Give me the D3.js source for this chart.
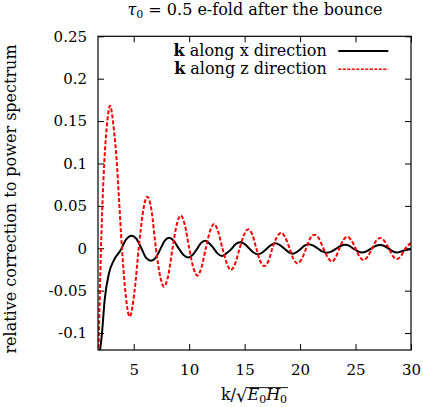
<!DOCTYPE html>
<html>
<head>
	<meta charset="utf-8">
	<title>relative correction to power spectrum</title>
	<script type="text/javascript" src="https://cdn.jsdelivr.net/npm/d3@7/dist/d3.min.js"></script>
	<style>
		body { margin: 0; background: #fff; }
		text { font-family: "DejaVu Serif", serif; fill: #000; }
	</style>
</head>
<body>
	<svg id="chart" width="423" height="407"></svg>
	<script type="text/javascript">
		// k along x direction (black, solid)
		var kX = [1.92, 2.14, 2.38, 2.77, 3.22, 3.83, 4.28, 4.82, 5.25, 5.69, 6.1, 6.56, 7.0, 7.4, 7.8, 8.19, 8.6, 9.05, 9.5, 9.93, 10.3, 10.7, 11.05, 11.45,
			11.8, 12.2, 12.55, 12.94, 13.35, 13.8, 14.2, 14.6, 15.0, 15.4, 15.8, 16.19, 16.6, 17.0, 17.4, 17.75, 18.15, 18.55, 18.95, 19.35, 19.7, 20.05,
			20.4, 20.76, 21.2, 21.6, 22.0, 22.42, 22.85, 23.25, 23.65, 24.07, 24.45, 24.8, 25.2, 25.58, 26.0, 26.4, 26.8, 27.23, 27.6, 28.0, 28.35, 28.74,
			29.1, 29.45, 30.0];
		var valX = [-0.125, -0.1, -0.061, -0.0295, -0.0138, -0.002, 0.0098, 0.0149, 0.011, 0.0, -0.011, -0.0146, -0.011, -0.001, 0.009, 0.0125, 0.009, 0.0, -0.008, -0.011, -0.008, -0.001, 0.006, 0.0088,
			0.006, 0.0, -0.006, -0.0091, -0.006, -0.001, 0.005, 0.0071, 0.005, 0.0, -0.005, -0.0071, -0.005, -0.0005, 0.004, 0.0059, 0.004, 0.0, -0.0045, -0.0064, -0.0045, -0.0008,
			0.003, 0.0047, 0.003, -0.0003, -0.0037, -0.0053, -0.0037, -0.0005, 0.0027, 0.004, 0.0027, -0.0005, -0.0035, -0.005, -0.0035, -0.0005, 0.0027, 0.0039, 0.0027, -0.0005, -0.0035, -0.005,
			-0.0038, -0.0025, -0.001];

		// k along z direction (red, dashed)
		var kZ = [1.82, 2.05, 2.35, 2.56, 2.86, 3.2, 3.47, 3.65, 3.94, 4.2, 4.64, 5.08, 5.45, 5.9, 6.23, 6.6, 7.0, 7.4, 7.73, 8.1, 8.5, 8.9, 9.24, 9.6,
			10.0, 10.4, 10.74, 11.1, 11.5, 11.9, 12.25, 12.6, 13.0, 13.4, 13.75, 14.15, 14.55, 14.95, 15.34, 15.7, 16.05, 16.4, 16.76, 17.15, 17.5,
			17.9, 18.29, 18.65, 19.05, 19.4, 19.77, 20.15, 20.55, 20.9, 21.3, 21.7, 22.1, 22.5, 22.87, 23.2, 23.55, 23.9, 24.25, 24.6, 25.0, 25.35,
			25.72, 26.1, 26.5, 26.85, 27.23, 27.6, 28.0, 28.35, 28.74, 29.1, 29.5, 30.0];
		var valZ = [-0.125, 0.0, 0.102, 0.1415, 0.168, 0.1415, 0.102, 0.063, 0.0, -0.045, -0.0807, -0.05, 0.0, 0.048, 0.0609, 0.045, 0.0, -0.034, -0.0453, -0.033, 0.0, 0.029, 0.0385, 0.028,
			0.0, -0.024, -0.0323, -0.023, 0.0, 0.021, 0.0287, 0.02, 0.0, -0.018, -0.0256, -0.018, 0.0, 0.016, 0.0224, 0.016, 0.0, -0.015, -0.0209, -0.015, 0.0,
			0.013, 0.0184, 0.013, 0.0, -0.0125, -0.0177, -0.0125, 0.0, 0.0115, 0.016, 0.0115, 0.0, -0.011, -0.0157, -0.011, 0.0, 0.0097, 0.0137, 0.0097, 0.0, -0.0097,
			-0.0138, -0.0097, 0.0, 0.0086, 0.0121, 0.0086, 0.0, -0.009, -0.0126, -0.009, 0.0, 0.006];

		var xTicks = [5, 10, 15, 20, 25, 30];
		var xTickLabels = ["5", "10", "15", "20", "25", "30"];
		var yTicks = [0.25, 0.2, 0.15, 0.1, 0.05, 0, -0.05, -0.1];
		var yTickLabels = ["0.25", "0.2", "0.15", "0.1", "0.05", "0", "-0.05", "-0.1"];

		var pLeft = 98, pRight = 411, pTop = 36.3, pBottom = 350;
		var svg = d3.select("#chart");

		var x = d3.scaleLinear().domain([1.78, 30]).range([pLeft, pRight]);
		var y = d3.scaleLinear().domain([-0.12, 0.25]).range([pBottom, pTop]);

		svg.append("clipPath").attr("id", "plotclip")
			.append("rect")
			.attr("x", pLeft).attr("y", pTop)
			.attr("width", pRight - pLeft).attr("height", pBottom - pTop);

		function tickLabel(ticks, labels) {
			return function(d) { return labels[ticks.indexOf(d)]; };
		}

		// axes, ticks pointing inwards on all four sides
		svg.append("g").attr("transform", "translate(0," + pBottom + ")")
			.call(d3.axisBottom(x).tickValues(xTicks).tickFormat(tickLabel(xTicks, xTickLabels)).tickSize(-6).tickPadding(14));
		svg.append("g").attr("transform", "translate(0," + pTop + ")")
			.call(d3.axisTop(x).tickValues(xTicks).tickFormat("").tickSize(-6));
		svg.append("g").attr("transform", "translate(" + pLeft + ",0)")
			.call(d3.axisLeft(y).tickValues(yTicks).tickFormat(tickLabel(yTicks, yTickLabels)).tickSize(-6).tickPadding(11));
		svg.append("g").attr("transform", "translate(" + pRight + ",0)")
			.call(d3.axisRight(y).tickValues(yTicks).tickFormat("").tickSize(-6));

		svg.selectAll(".domain").remove();
		svg.selectAll(".tick line").attr("stroke", "#000").attr("stroke-width", 1);
		svg.selectAll(".tick text").attr("font-family", "DejaVu Serif").attr("font-size", 15).attr("fill", "#000");

		// curves
		var lineX = d3.line()
			.x(function(d, i) { return x(kX[i]); })
			.y(function(d) { return y(d); })
			.curve(d3.curveMonotoneX);
		var lineZ = d3.line()
			.x(function(d, i) { return x(kZ[i]); })
			.y(function(d) { return y(d); })
			.curve(d3.curveMonotoneX);

		var plot = svg.append("g").attr("clip-path", "url(#plotclip)");
		plot.append("path").datum(valX)
			.attr("d", lineX)
			.attr("fill", "none").attr("stroke", "#000").attr("stroke-width", 2);
		plot.append("path").datum(valZ)
			.attr("d", lineZ)
			.attr("fill", "none").attr("stroke", "#ff0000").attr("stroke-width", 2)
			.attr("stroke-dasharray", "4,2");

		// frame
		svg.append("rect")
			.attr("x", pLeft).attr("y", pTop)
			.attr("width", pRight - pLeft).attr("height", pBottom - pTop)
			.attr("fill", "none").attr("stroke", "#000").attr("stroke-width", 1.2);

		// legend
		var legend = [
			{ dir: "x", color: "#000", dash: null, y: 51 },
			{ dir: "z", color: "#ff0000", dash: "3,1.5", y: 69.3 }
		];
		legend.forEach(function(l) {
			var t = svg.append("text")
				.attr("x", 326.7).attr("y", l.y + 4.8)
				.attr("text-anchor", "end").attr("font-size", 16);
			t.append("tspan").attr("font-weight", "bold").text("k");
			t.append("tspan").text(" along " + l.dir + " direction");
			svg.append("line")
				.attr("x1", 338.3).attr("x2", 388.3)
				.attr("y1", l.y).attr("y2", l.y)
				.attr("stroke", l.color).attr("stroke-width", l.dash ? 1.5 : 2)
				.attr("stroke-dasharray", l.dash);
		});

		// title
		var title = svg.append("text")
			.attr("x", 255).attr("y", 15)
			.attr("text-anchor", "middle").attr("font-size", 16);
		title.append("tspan").attr("font-style", "italic").text("τ");
		title.append("tspan").attr("font-size", 11).attr("dy", 3).text("0");
		title.append("tspan").attr("dy", -3).text(" = 0.5 e-fold after the bounce");

		// y label
		svg.append("text")
			.attr("transform", "translate(16,199) rotate(-90)")
			.attr("text-anchor", "middle").attr("font-size", 16)
			.text("relative correction to power spectrum");

		// x label: k/sqrt(E0 H0)
		var xl = svg.append("g");
		var part1 = xl.append("text").attr("y", 400).attr("font-size", 16).text("k/");
		var part2 = xl.append("text").attr("y", 401.5).attr("font-size", 18).text("√");
		var part3 = xl.append("text").attr("y", 400).attr("font-size", 16);
		part3.append("tspan").attr("font-style", "italic").text("E");
		part3.append("tspan").attr("font-size", 11).attr("dy", 3).text("0");
		part3.append("tspan").attr("font-style", "italic").attr("dy", -3).text("H");
		part3.append("tspan").attr("font-size", 11).attr("dy", 3).text("0");
		var w1 = part1.node().getComputedTextLength();
		var w2 = part2.node().getComputedTextLength();
		var w3 = part3.node().getComputedTextLength();
		var x0 = 254 - (w1 + w2 + w3) / 2;
		part1.attr("x", x0);
		part2.attr("x", x0 + w1);
		part3.attr("x", x0 + w1 + w2);
		xl.append("line")
			.attr("x1", x0 + w1 + w2 - 1).attr("x2", x0 + w1 + w2 + w3 + 1)
			.attr("y1", 387.6).attr("y2", 387.6)
			.attr("stroke", "#000").attr("stroke-width", 0.9);
	</script>
</body>
</html>
